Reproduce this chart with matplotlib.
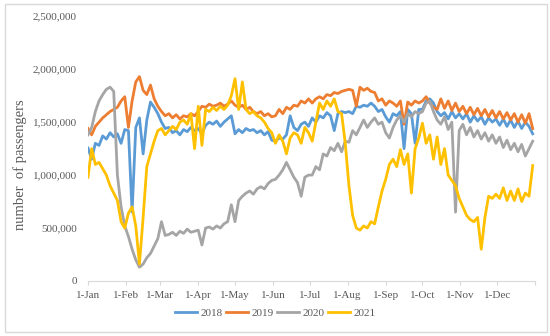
import numpy as np
import matplotlib
matplotlib.use("Agg")
import matplotlib.pyplot as plt
from matplotlib.patches import Rectangle
from matplotlib.ticker import FuncFormatter

# day of year of each sample (every 3rd day)
days = list(range(0, 364, 3))

# passengers, thousands
y2018 = [1255, 1150, 1300, 1280, 1370, 1340, 1400, 1360, 1390, 1300, 1430,
         1420, 650, 1450, 1540, 1200, 1520, 1690, 1640, 1580,
         1500, 1440, 1450, 1400, 1420, 1380, 1430, 1410, 1450, 1420,
         1440, 1390, 1470, 1500, 1480, 1510, 1460, 1500, 1530, 1560,
         1390, 1430, 1400, 1440, 1420, 1430, 1400, 1420, 1380, 1410, 1330,
         1320, 1350, 1340, 1380, 1560, 1450, 1420, 1480, 1500, 1460,
         1540, 1500, 1560, 1540, 1590, 1560, 1420, 1580, 1600, 1590,
         1600, 1580, 1650, 1640, 1660, 1650, 1680, 1650, 1600, 1620,
         1550, 1500, 1580, 1560, 1600, 1250, 1620, 1580, 1300, 1620,
         1620, 1700, 1720, 1680, 1600, 1560, 1590, 1530, 1600, 1540, 1580,
         1530, 1580, 1500, 1560, 1510, 1550, 1480, 1540, 1500, 1530,
         1470, 1530, 1460, 1520, 1450, 1510, 1440, 1500, 1460, 1390]

y2019 = [1440, 1380, 1460, 1500, 1540, 1570, 1600, 1620, 1640, 1700, 1740,
         1450, 1700, 1880, 1930, 1800, 1760, 1850, 1720, 1650,
         1600, 1560, 1580, 1540, 1570, 1530, 1560, 1550, 1580, 1560,
         1600, 1650, 1640, 1670, 1650, 1660, 1680, 1650, 1670, 1700,
         1660, 1640, 1660, 1620, 1640, 1600, 1580, 1600, 1560, 1580, 1550,
         1560, 1620, 1580, 1640, 1620, 1660, 1650, 1700, 1680, 1720,
         1680, 1720, 1740, 1720, 1760, 1750, 1780, 1770, 1790, 1800,
         1810, 1800, 1650, 1830, 1800, 1820, 1790, 1780, 1700, 1720,
         1660, 1700, 1680, 1650, 1700, 1480, 1690, 1660, 1700, 1680,
         1700, 1740, 1680, 1640, 1620, 1720, 1630, 1700, 1610, 1680, 1600,
         1650, 1580, 1640, 1570, 1630, 1560, 1620, 1550, 1610, 1540,
         1600, 1530, 1590, 1520, 1580, 1500, 1570, 1490, 1580, 1440]

y2020 = [1380, 1450, 1600, 1700, 1760, 1810, 1830, 1790, 1000, 700, 520,
         420, 300, 200, 130, 160, 220, 260, 330, 400,
         560, 430, 440, 460, 430, 470, 450, 490, 460, 470,
         480, 340, 500, 510, 490, 520, 500, 540, 560, 720,
         560, 760, 800, 830, 850, 820, 870, 890, 870, 920, 950,
         960, 1000, 1050, 1120, 1050, 980, 930, 800, 980, 1000,
         1000, 1080, 1050, 1200, 1180, 1260, 1230, 1300, 1220, 1320,
         1310, 1420, 1380, 1450, 1520, 1450, 1500, 1540, 1480, 1500,
         1400, 1350, 1450, 1520, 1560, 1500, 1580, 1550, 1600, 1580,
         1600, 1680, 1700, 1600, 1520, 1480, 1550, 1430, 1500, 650, 1420,
         1480, 1380, 1450, 1360, 1420, 1340, 1400, 1320, 1380, 1300,
         1360, 1260, 1330, 1240, 1300, 1220, 1290, 1180, 1250, 1320]

y2021 = [980, 1250, 1100, 1120, 1060, 1000, 900, 830, 760, 560, 500,
         640, 700, 520, 160, 600, 1080, 1200, 1320, 1420,
         1440, 1380, 1420, 1460, 1430, 1500, 1520, 1480, 1580, 1250,
         1650, 1280, 1620, 1600, 1640, 1610, 1650, 1620, 1660, 1750,
         1910, 1620, 1880, 1620, 1580, 1600, 1560, 1540, 1500, 1440, 1400,
         1300, 1380, 1320, 1200, 1350, 1400, 1380, 1300, 1450, 1400,
         1320, 1500, 1680, 1620, 1700, 1650, 1720, 1600, 1580, 1300,
         900, 620, 500, 480, 520, 500, 560, 540, 700, 850,
         960, 1100, 1150, 1080, 1240, 1100, 1200, 830, 1250, 1350,
         1490, 1300, 1380, 1150, 1360, 1100, 1250, 1000, 950, 900, 780,
         700, 620, 580, 560, 600, 300, 600, 800, 780, 820,
         780, 880, 760, 850, 760, 870, 750, 830, 800, 1090]

series = {"2018": y2018, "2019": y2019, "2020": y2020, "2021": y2021}
colors = {"2018": "#5B9BD5", "2019": "#ED7D31", "2020": "#A5A5A5", "2021": "#FFC000"}

month_starts = [0, 31, 59, 90, 120, 151, 181, 212, 243, 273, 304, 334, 365]
month_labels = ["1-Jan", "1-Feb", "1-Mar", "1-Apr", "1-May", "1-Jun", "1-Jul",
                "1-Aug", "1-Sep", "1-Oct", "1-Nov", "1-Dec", ""]

serif = ["Liberation Serif", "DejaVu Serif"]
txt = "#595959"

fig = plt.figure(figsize=(5.5, 3.36), dpi=100)
ax = fig.add_axes([0.16, 0.1637, 0.813, 0.788])

for name, vals in series.items():
    ax.plot(days, np.array(vals) * 1000, color=colors[name], lw=2, label=name)

ax.set_xlim(0, 365)
ax.set_ylim(0, 2500000)
ax.set_yticks([0, 500000, 1000000, 1500000, 2000000, 2500000])
ax.yaxis.set_major_formatter(FuncFormatter(lambda v, p: f"{int(v):,}"))
ax.set_xticks(month_starts)
ax.set_xticklabels(month_labels)

for s in ["top", "right", "left"]:
    ax.spines[s].set_visible(False)
ax.spines["bottom"].set_color("#D9D9D9")
ax.tick_params(axis="y", length=0, pad=8, labelsize=8, labelcolor=txt)
ax.tick_params(axis="x", length=3, color="#D9D9D9", pad=4, labelsize=8, labelcolor=txt)
for lab in ax.get_xticklabels() + ax.get_yticklabels():
    lab.set_family(serif)

ax.set_ylabel("number  of passengers", fontsize=10.5, color=txt, family=serif)
ax.yaxis.set_label_coords(-0.136, 0.44)

handles, labels = ax.get_legend_handles_labels()
leg = fig.legend(handles, labels, loc="center", bbox_to_anchor=(0.5, 0.068), ncol=4,
                 frameon=False, handlelength=2.0, handletextpad=0.3, columnspacing=0.3,
                 prop={"family": serif, "size": 8})
for t in leg.get_texts():
    t.set_color(txt)

# thin outer frame around the whole chart
fig.patches.append(Rectangle((0.009, 0.012), 0.985, 0.975, transform=fig.transFigure,
                             fill=False, edgecolor="#D9D9D9", lw=1))

fig.savefig("out.png", dpi=100)
